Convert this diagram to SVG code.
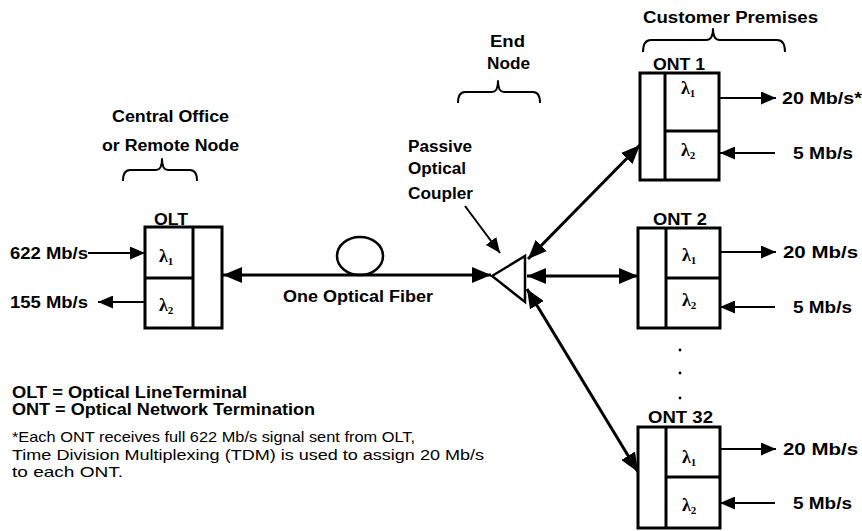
<svg xmlns="http://www.w3.org/2000/svg" width="862" height="531" viewBox="0 0 862 531">
  <style>
    .lbl { font-family: "Liberation Sans", Arial, sans-serif; font-weight: bold; font-size: 16px; fill: #000; }
    .note { font-family: "Liberation Sans", Arial, sans-serif; font-size: 15px; fill: #000; }
    .lam { font-family: "Liberation Serif", "Times New Roman", serif; font-weight: bold; font-size: 18px; fill: #000; }
    .sub { font-size: 11px; }
    .box { fill: #fff; stroke: #000; stroke-width: 3; }
    .div { stroke: #000; stroke-width: 3; fill: none; }
    .thick { stroke: #000; stroke-width: 3; fill: none; }
    .thin { stroke: #000; stroke-width: 2; fill: none; }
    .brace { stroke: #000; stroke-width: 2; fill: none; stroke-linejoin: round; }
  </style>
  <defs>
    <marker id="ah" markerUnits="userSpaceOnUse" markerWidth="19" markerHeight="16" refX="19" refY="8" orient="auto-start-reverse">
      <path d="M0,0 L19,8 L0,16 z" fill="#000"/>
    </marker>
    <marker id="ahs" markerUnits="userSpaceOnUse" markerWidth="15" markerHeight="13" refX="15" refY="6.5" orient="auto-start-reverse">
      <path d="M0,0 L15,6.5 L0,13 z" fill="#000"/>
    </marker>
  </defs>

  <rect width="862" height="531" fill="#fff"/>

  <!-- group headings with braces -->
  <g id="central-office">
    <text class="lbl" x="112" y="122" textLength="117" lengthAdjust="spacingAndGlyphs">Central Office</text>
    <text class="lbl" x="102" y="151" textLength="137" lengthAdjust="spacingAndGlyphs">or Remote Node</text>
    <path class="brace" d="M123,181 Q123,170 130,170 L156,170 Q162,170 162,159 Q162,170 168,170 L190,170 Q197,170 197,181"/>
  </g>
  <g id="end-node">
    <text class="lbl" x="490" y="47" textLength="35" lengthAdjust="spacingAndGlyphs">End</text>
    <text class="lbl" x="487" y="69" textLength="43" lengthAdjust="spacingAndGlyphs">Node</text>
    <path class="brace" d="M458,103 Q458,92 465,92 L492,92 Q498,92 498,81 Q498,92 504,92 L533,92 Q540,92 540,103"/>
  </g>
  <g id="customer-premises">
    <text class="lbl" x="643" y="23" textLength="175" lengthAdjust="spacingAndGlyphs">Customer Premises</text>
    <path class="brace" d="M643,52 Q643,40 651,40 L706,40 Q713,40 713,29 Q713,40 720,40 L777,40 Q785,40 785,52"/>
  </g>

  <!-- OLT -->
  <g id="olt">
    <text class="lbl" x="154" y="225" textLength="34" lengthAdjust="spacingAndGlyphs">OLT</text>
    <rect class="box" x="145" y="227" width="77" height="101"/>
    <line class="div" x1="193" y1="227" x2="193" y2="328"/>
    <line class="div" x1="145" y1="278" x2="193" y2="278"/>
    <text class="lam" x="159" y="262">λ<tspan class="sub" dy="3">1</tspan></text>
    <text class="lam" x="159" y="311">λ<tspan class="sub" dy="3">2</tspan></text>
  </g>

  <!-- passive coupler -->
  <g id="coupler">
    <polygon points="492,276 525,256 525,302" fill="#fff" stroke="#000" stroke-width="2.5" stroke-linejoin="miter"/>
    <text class="lbl" x="408" y="152" textLength="64" lengthAdjust="spacingAndGlyphs">Passive</text>
    <text class="lbl" x="408" y="174" textLength="58" lengthAdjust="spacingAndGlyphs">Optical</text>
    <text class="lbl" x="408" y="199" textLength="65" lengthAdjust="spacingAndGlyphs">Coupler</text>
  </g>

  <!-- ONT 1 -->
  <g id="ont-1">
    <text class="lbl" x="653" y="70" textLength="52" lengthAdjust="spacingAndGlyphs">ONT 1</text>
    <rect class="box" x="640" y="73" width="79" height="107"/>
    <line class="div" x1="665" y1="73" x2="665" y2="180"/>
    <line class="div" x1="665" y1="131" x2="719" y2="131"/>
    <text class="lam" x="681" y="94">λ<tspan class="sub" dy="3">1</tspan></text>
    <text class="lam" x="681" y="156">λ<tspan class="sub" dy="3">2</tspan></text>
    <text class="lbl" x="782" y="104" textLength="80" lengthAdjust="spacingAndGlyphs">20 Mb/s*</text>
    <text class="lbl" x="793" y="159" textLength="60" lengthAdjust="spacingAndGlyphs">5 Mb/s</text>
  </g>

  <!-- ONT 2 -->
  <g id="ont-2">
    <text class="lbl" x="653" y="225" textLength="54" lengthAdjust="spacingAndGlyphs">ONT 2</text>
    <rect class="box" x="638" y="228" width="82" height="100"/>
    <line class="div" x1="666" y1="228" x2="666" y2="328"/>
    <line class="div" x1="666" y1="278" x2="720" y2="278"/>
    <text class="lam" x="682" y="261">λ<tspan class="sub" dy="3">1</tspan></text>
    <text class="lam" x="682" y="306">λ<tspan class="sub" dy="3">2</tspan></text>
    <text class="lbl" x="783" y="258" textLength="75" lengthAdjust="spacingAndGlyphs">20 Mb/s</text>
    <text class="lbl" x="793" y="313" textLength="59" lengthAdjust="spacingAndGlyphs">5 Mb/s</text>
  </g>

  <!-- ellipsis between ONT 2 and ONT 32 -->
  <g id="more-onts" fill="#000">
    <circle cx="680" cy="350" r="1.4"/>
    <circle cx="680" cy="373" r="1.4"/>
    <circle cx="680" cy="398" r="1.4"/>
  </g>

  <!-- ONT 32 -->
  <g id="ont-32">
    <text class="lbl" x="648" y="423" textLength="65" lengthAdjust="spacingAndGlyphs">ONT 32</text>
    <rect class="box" x="638" y="427" width="82" height="101"/>
    <line class="div" x1="666" y1="427" x2="666" y2="528"/>
    <line class="div" x1="666" y1="477" x2="720" y2="477"/>
    <text class="lam" x="682" y="463">λ<tspan class="sub" dy="3">1</tspan></text>
    <text class="lam" x="682" y="511">λ<tspan class="sub" dy="3">2</tspan></text>
    <text class="lbl" x="783" y="455" textLength="75" lengthAdjust="spacingAndGlyphs">20 Mb/s</text>
    <text class="lbl" x="793" y="509" textLength="59" lengthAdjust="spacingAndGlyphs">5 Mb/s</text>
  </g>

  <!-- OLT side rates -->
  <g id="olt-rates">
    <text class="lbl" x="10" y="259" textLength="78" lengthAdjust="spacingAndGlyphs">622 Mb/s</text>
    <text class="lbl" x="10" y="308" textLength="78" lengthAdjust="spacingAndGlyphs">155 Mb/s</text>
  </g>

  <!-- fiber -->
  <g id="fiber">
    <ellipse cx="360" cy="256" rx="23" ry="19" fill="none" stroke="#000" stroke-width="2.5"/>
    <text class="lbl" x="283" y="302" textLength="150" lengthAdjust="spacingAndGlyphs">One Optical Fiber</text>
  </g>

  <!-- connectors -->
  <g id="connectors">
    <line class="thick" x1="223" y1="275" x2="491" y2="275" marker-start="url(#ah)" marker-end="url(#ah)"/>
    <line class="thick" x1="527" y1="276" x2="638" y2="276" marker-start="url(#ah)" marker-end="url(#ah)"/>
    <line class="thick" x1="528" y1="259" x2="640" y2="145" marker-start="url(#ah)" marker-end="url(#ah)"/>
    <line class="thick" x1="527" y1="289" x2="638" y2="472" marker-start="url(#ah)" marker-end="url(#ah)"/>
    <line class="thin" x1="465" y1="206" x2="500" y2="253" marker-end="url(#ahs)"/>
    <line class="thin" x1="88" y1="253" x2="145" y2="253" marker-end="url(#ahs)"/>
    <line class="thin" x1="145" y1="302" x2="98" y2="302" marker-end="url(#ahs)"/>
    <line class="thin" x1="720" y1="98" x2="776" y2="98" marker-end="url(#ahs)"/>
    <line class="thin" x1="775" y1="153" x2="720" y2="153" marker-end="url(#ahs)"/>
    <line class="thin" x1="720" y1="252" x2="776" y2="252" marker-end="url(#ahs)"/>
    <line class="thin" x1="775" y1="307" x2="720" y2="307" marker-end="url(#ahs)"/>
    <line class="thin" x1="720" y1="449" x2="776" y2="449" marker-end="url(#ahs)"/>
    <line class="thin" x1="775" y1="503" x2="720" y2="503" marker-end="url(#ahs)"/>
  </g>

  <!-- legend and footnote -->
  <g id="legend">
    <text class="lbl" x="12" y="398" textLength="235" lengthAdjust="spacingAndGlyphs">OLT = Optical LineTerminal</text>
    <text class="lbl" x="12" y="415" textLength="303" lengthAdjust="spacingAndGlyphs">ONT = Optical Network Termination</text>
    <text class="note" x="12" y="442" textLength="403" lengthAdjust="spacingAndGlyphs">*Each ONT receives full 622 Mb/s signal sent from OLT,</text>
    <text class="note" x="12" y="460" textLength="472" lengthAdjust="spacingAndGlyphs">Time Division Multiplexing (TDM) is used to assign 20 Mb/s</text>
    <text class="note" x="12" y="477" textLength="111" lengthAdjust="spacingAndGlyphs">to each ONT.</text>
  </g>
</svg>
